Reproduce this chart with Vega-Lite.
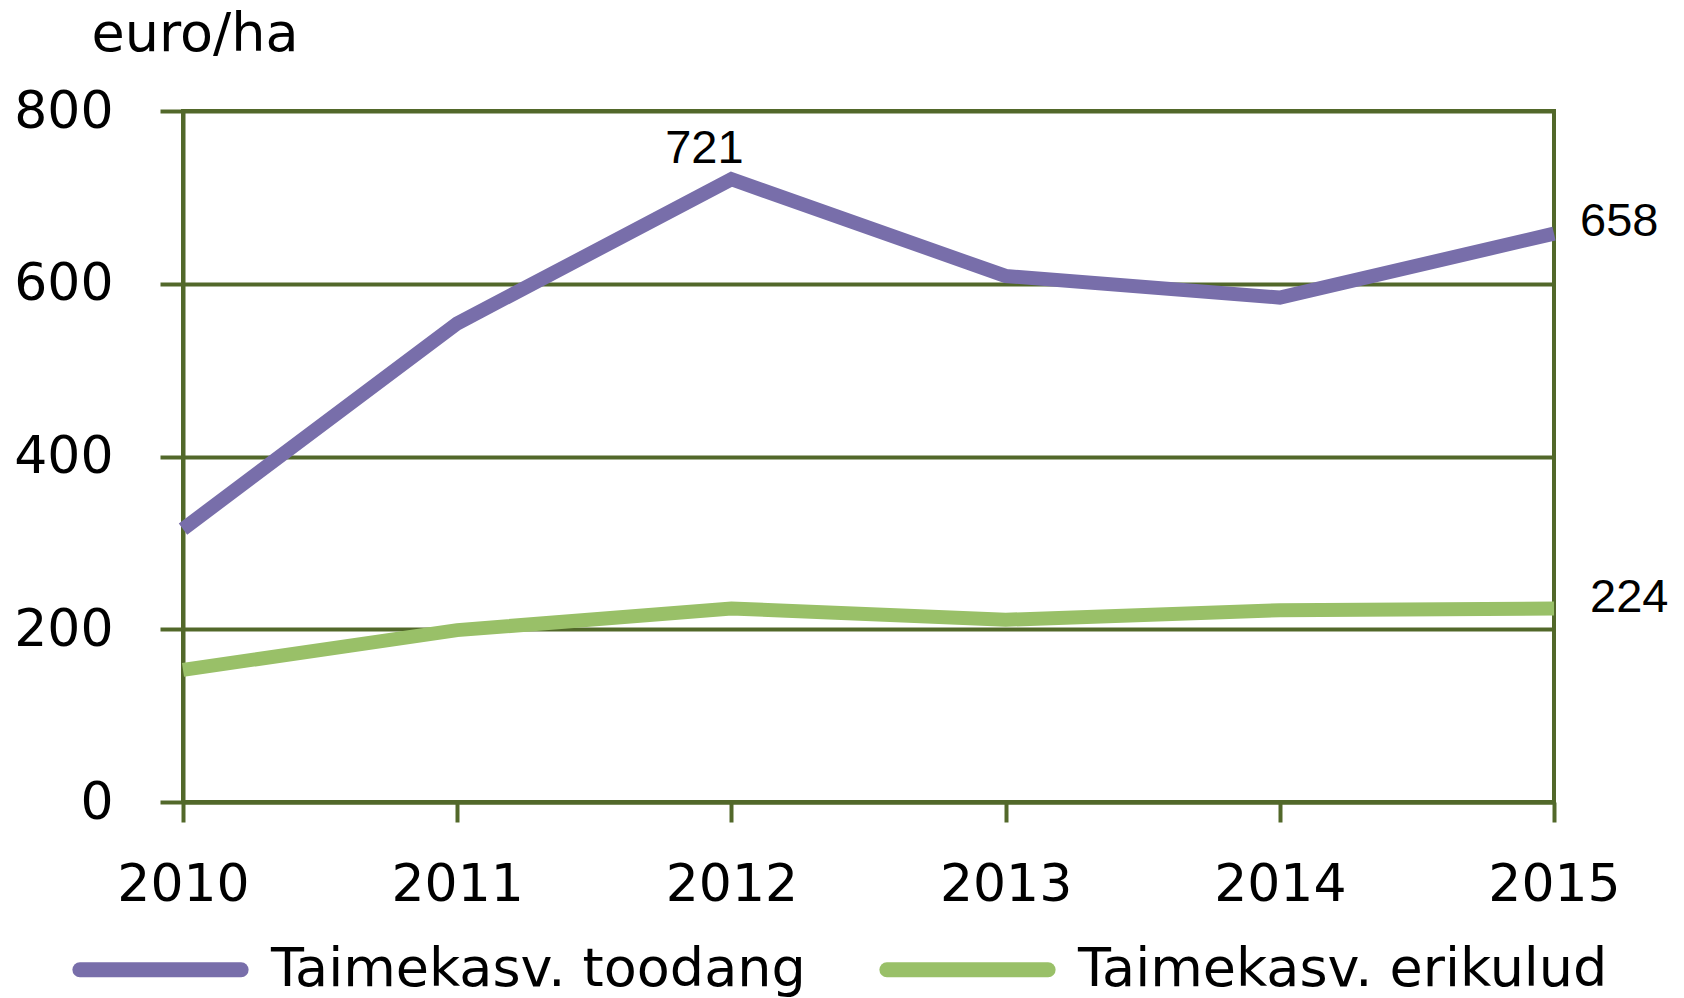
{
  "$schema": "https://vega.github.io/schema/vega-lite/v6.json",
  "width": 1371,
  "height": 691,
  "autosize": {"type": "none"},
  "padding": {"left": 183, "top": 111, "right": 130, "bottom": 196},
  "background": "white",
  "config": {
    "view": {"stroke": "#52682A", "strokeWidth": 4},
    "font": "DejaVu Sans"
  },
  "data": {
    "values": [
      {"year": "2010", "series": "Taimekasv. toodang", "value": 316},
      {"year": "2011", "series": "Taimekasv. toodang", "value": 554},
      {"year": "2012", "series": "Taimekasv. toodang", "value": 721},
      {"year": "2013", "series": "Taimekasv. toodang", "value": 609},
      {"year": "2014", "series": "Taimekasv. toodang", "value": 584},
      {"year": "2015", "series": "Taimekasv. toodang", "value": 658},
      {"year": "2010", "series": "Taimekasv. erikulud", "value": 153},
      {"year": "2011", "series": "Taimekasv. erikulud", "value": 199},
      {"year": "2012", "series": "Taimekasv. erikulud", "value": 224},
      {"year": "2013", "series": "Taimekasv. erikulud", "value": 211},
      {"year": "2014", "series": "Taimekasv. erikulud", "value": 222},
      {"year": "2015", "series": "Taimekasv. erikulud", "value": 224}
    ]
  },
  "encoding": {
    "x": {
      "field": "year", "type": "ordinal",
      "scale": {"type": "point", "padding": 0},
      "axis": {
        "title": null, "labelAngle": 0, "labelFontSize": 52, "labelColor": "black",
        "labelPadding": 37, "domainColor": "#52682A", "domainWidth": 4,
        "tickColor": "#52682A", "tickWidth": 4, "tickSize": 20, "grid": false
      }
    },
    "y": {
      "field": "value", "type": "quantitative",
      "scale": {"domain": [0, 800], "nice": false},
      "axis": {
        "values": [0, 200, 400, 600, 800],
        "title": "euro/ha", "titleAngle": 0, "titleAlign": "left", "titleBaseline": "alphabetic",
        "titleX": -92, "titleY": -61, "titleFontSize": 54, "titleFontWeight": "normal", "titleColor": "black",
        "labelFontSize": 52, "labelColor": "black", "labelPadding": 47,
        "domainColor": "#52682A", "domainWidth": 4,
        "grid": true, "gridColor": "#52682A", "gridWidth": 4, "gridOpacity": 1,
        "tickColor": "#52682A", "tickWidth": 4, "tickSize": 23
      }
    }
  },
  "layer": [
    {
      "mark": {"type": "line", "strokeWidth": 14},
      "encoding": {
        "color": {
          "field": "series", "type": "nominal",
          "scale": {"domain": ["Taimekasv. toodang", "Taimekasv. erikulud"], "range": ["#786EAA", "#99C068"]},
          "legend": {
            "orient": "none", "legendX": -111, "legendY": 770, "direction": "horizontal",
            "title": null, "labelFontSize": 54, "labelColor": "black", "labelFont": "DejaVu Sans",
            "labelLimit": 0,
            "symbolType": "stroke", "symbolSize": 26000, "symbolStrokeWidth": 15,
            "labelOffset": 22, "columnPadding": 50,
            "encode": {"symbols": {"update": {"strokeCap": {"value": "round"}}}}
          }
        }
      }
    },
    {
      "transform": [{"filter": "datum.series === 'Taimekasv. toodang' && datum.year === '2012'"}],
      "mark": {"type": "text", "font": "Liberation Sans", "fontSize": 47, "align": "center", "baseline": "alphabetic", "dx": -27, "dy": -16, "color": "black"},
      "encoding": {"text": {"field": "value", "type": "quantitative"}}
    },
    {
      "transform": [{"filter": "datum.series === 'Taimekasv. toodang' && datum.year === '2015'"}],
      "mark": {"type": "text", "font": "Liberation Sans", "fontSize": 47, "align": "left", "baseline": "middle", "dx": 26, "dy": -12, "color": "black"},
      "encoding": {"text": {"field": "value", "type": "quantitative"}}
    },
    {
      "transform": [{"filter": "datum.series === 'Taimekasv. erikulud' && datum.year === '2015'"}],
      "mark": {"type": "text", "font": "Liberation Sans", "fontSize": 47, "align": "left", "baseline": "middle", "dx": 36, "dy": -11, "color": "black"},
      "encoding": {"text": {"field": "value", "type": "quantitative"}}
    }
  ]
}
